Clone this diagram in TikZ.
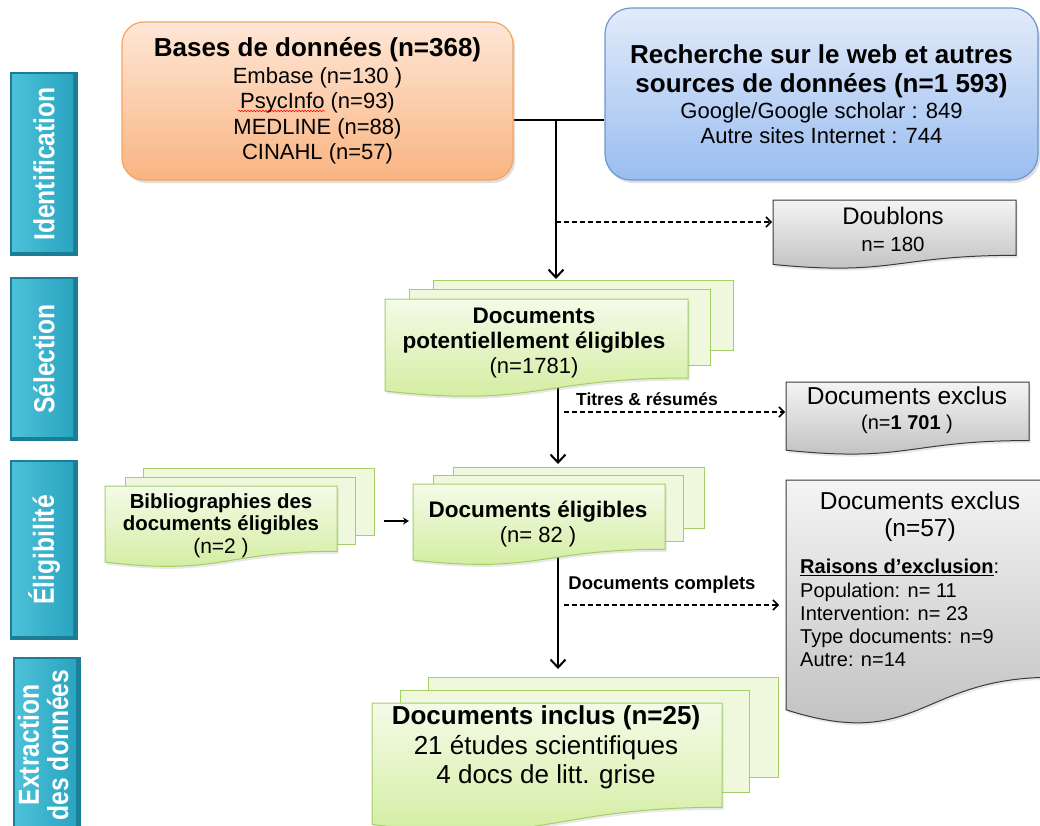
\documentclass[tikz,border=0pt]{standalone}
\usepackage{graphicx}
\usepackage{fontspec}
\setmainfont{Liberation Sans}
\usetikzlibrary{arrows.meta,shadows,decorations.pathmorphing}
\pgfdeclarelayer{bg}
\pgfdeclarelayer{mid}
\pgfsetlayers{bg,mid,main}
\definecolor{orTop}{HTML}{FEE7D6}
\definecolor{orBot}{HTML}{F9B482}
\definecolor{orLine}{HTML}{F5A35E}
\definecolor{blTop}{HTML}{E2EBFA}
\definecolor{blBot}{HTML}{9ABDF0}
\definecolor{blLine}{HTML}{6E96D0}
\definecolor{grTop}{HTML}{F4F4F4}
\definecolor{grBot}{HTML}{BDBDBD}
\definecolor{grLine}{HTML}{3A3A3A}
\definecolor{gnTop}{HTML}{F4FBE8}
\definecolor{gnBot}{HTML}{D0EC9A}
\definecolor{gnLine}{HTML}{A3CF66}
\definecolor{gnBack}{HTML}{EFF8DD}
\definecolor{tlDark}{HTML}{1C7E96}
\definecolor{tlMid}{HTML}{2AA4C0}
\definecolor{tlLight}{HTML}{4DC1D9}

% document shape: style, x1, y1 (top), x2, height
\newcommand\docshape[5]{\path[#1] ({#2},{#3}) -- ({#4},{#3}) -- ({#4},{#3+0.802*#5})
  .. controls ({(#2+#4)/2},{#3+0.802*#5}) and ({(#2+#4)/2},{#3+1.107*#5}) .. ({#2},{#3+0.934*#5}) -- cycle;}
\newcommand\backsheet[4]{\path[backpage] ({#1},{#2}) rectangle ({#3},{#4});}
\newcommand\tealbox[4]{%
  \fill[tlDark] ({#1},{#2}) rectangle ({#3},{#4});
  \fill[left color=tlLight, right color=tlMid] ({#1+2},{#2+2}) rectangle ({#3-5},{#4-5});
}
\newcommand\ttl{\fontsize{26}{26}\selectfont\bfseries}

\begin{document}
\begin{tikzpicture}[x=1pt,y=-1pt,
  backpage/.style={fill=gnBack, draw=gnLine, line width=1pt},
  frontpage/.style={top color=gnTop, bottom color=gnBot, draw=gnLine, line width=1pt,
     drop shadow={opacity=0.18, shadow xshift=1.5pt, shadow yshift=-2.5pt}},
  graypage/.style={top color=grTop, bottom color=grBot, draw=grLine, line width=1pt,
     drop shadow={opacity=0.18, shadow xshift=1.5pt, shadow yshift=-2.5pt}},
  txt/.style={inner sep=0pt, align=center},
  labtxt/.style={rotate=90, text=white, font=\fontsize{29}{27}\selectfont\bfseries, inner sep=0pt},
  plain/.style={line width=2pt},
  arr/.style={line width=2pt, -{Straight Barb[length=8pt,width=15pt]}},
  darr/.style={line width=1.5pt, dash pattern=on 5pt off 3pt, -{Straight Barb[length=5pt,width=10pt]}},
  smallarr/.style={line width=2pt, -{Stealth[length=6pt,width=7pt]}},
  lbl/.style={inner sep=0pt, font=\bfseries}
]
\useasboundingbox (0,0) rectangle (1040,825);

% ---- phase labels
\tealbox{10}{72}{78}{256}
\tealbox{10}{277}{78}{441}
\tealbox{10}{460}{78}{640}
\tealbox{13}{657}{81}{835}
\node[labtxt] (lab1) at (44,164) {\scalebox{0.85}[1]{Identification}};
\node[labtxt] (lab2) at (44,359) {\scalebox{0.85}[1]{Sélection}};
\node[labtxt] (lab3) at (44,550) {\scalebox{0.85}[1]{Éligibilité}};
\node[labtxt] (lab4) at (47,745) {\scalebox{0.85}[1]{\begin{tabular}{@{}c@{}}Extraction\\des données\end{tabular}}};

% ---- top sources
\node[txt, font=\fontsize{22}{25.5}\selectfont, draw=orLine, line width=1.2pt, rounded corners=22pt,
  top color=orTop, bottom color=orBot, minimum width=391pt, minimum height=158pt,
  drop shadow={opacity=0.25, shadow xshift=2pt, shadow yshift=-3pt}] (db) at (317.5,101)
  {{\ttl Bases de données (n=368)}\\[1pt]
   Embase (n=130 )\\ PsycInfo (n=93)\\ MEDLINE (n=88)\\ CINAHL (n=57)};
\draw[red, line width=0.5pt, decorate, decoration={snake, amplitude=0.7pt, segment length=3pt}]
  (238,111) -- (325,111);

\node[txt, font=\fontsize{22}{25}\selectfont, draw=blLine, line width=1.2pt, rounded corners=26pt,
  top color=blTop, bottom color=blBot, minimum width=433pt, minimum height=172pt,
  drop shadow={opacity=0.25, shadow xshift=2pt, shadow yshift=-3pt}] (web) at (821.5,94)
  {{\ttl Recherche sur le web et autres}\\[4pt] {\ttl sources de données (n=1 593)}\\[0.5pt]
   Google/Google scholar : 849\\ Autre sites Internet : 744};

% ---- document shapes
\begin{pgfonlayer}{mid}
  \docshape{graypage}{773}{200}{1016}{69}
  \backsheet{433}{280}{733}{350}
  \backsheet{409}{289}{710}{365}
  \docshape{frontpage}{385}{299}{688}{98.5}
  \docshape{graypage}{786}{382}{1029}{73}
  \backsheet{143}{468}{374}{535}
  \backsheet{125}{477}{355}{544}
  \docshape{frontpage}{105}{486}{337}{81.4}
  \backsheet{453}{467}{704}{528}
  \backsheet{433}{475}{683}{541}
  \docshape{frontpage}{413}{484}{665}{81.4}
  \docshape{graypage}{786}{480}{1052}{246}
  \backsheet{428}{677}{778}{777}
  \backsheet{400}{690}{749}{792}
  \docshape{frontpage}{372}{703}{722}{130}
\end{pgfonlayer}

% ---- texts
\node[txt, font=\fontsize{20.5}{27}\selectfont] (dbl) at (893,229) {{\fontsize{24}{27}\selectfont Doublons}\\ n= 180};
\node[txt, font=\fontsize{22.5}{25}\selectfont] (pot) at (534,343)
  {\textbf{Documents}\\ \textbf{potentiellement éligibles}\\ {\fontsize{22}{25}\selectfont (n=1781)}};
\node[txt, font=\fontsize{20}{25}\selectfont] (ex1) at (907,410)
  {{\fontsize{24.5}{25}\selectfont Documents exclus}\\ (n=\textbf{1 701} )};
\node[txt, font=\fontsize{20.4}{22.5}\selectfont] (bib) at (221,525.5)
  {\textbf{Bibliographies des}\\ \textbf{documents éligibles}\\ {\fontsize{21}{22.5}\selectfont (n=2 )}};
\node[txt, font=\fontsize{22}{25}\selectfont] (elig) at (538,524.5)
  {{\fontsize{22.5}{25}\selectfont\bfseries Documents éligibles}\\ (n= 82 )};
\node[txt, font=\fontsize{24.5}{27}\selectfont] (ex2) at (920,516.5) {Documents exclus\\ (n=57)};
\node[inner sep=0pt, align=left, anchor=north west, font=\fontsize{20}{23.3}\selectfont] (ex2r) at (800,559)
  {\textbf{\underline{Raisons d’exclusion}}:\\ Population: n= 11\\ Intervention: n= 23\\ Type documents: n=9\\ Autre: n=14};
\node[txt, font=\fontsize{26}{29.5}\selectfont] (incl) at (546,747.5)
  {\textbf{Documents inclus (n=25)}\\ 21 études scientifiques\\ 4 docs de litt. grise};
\node[lbl, font=\fontsize{17.5}{20}\selectfont\bfseries] (lt) at (647,399) {Titres \& résumés};
\node[lbl, font=\fontsize{18.5}{20}\selectfont\bfseries] (lc) at (662,585) {Documents complets};

% ---- connector end points
\coordinate (j) at (556,120);
\coordinate (potT) at (556,279);
\coordinate (jd) at (556,222);
\coordinate (dblL) at (772,222);
\coordinate (potB) at (558,375);
\coordinate (eligT) at (558,464);
\coordinate (t1) at (564,412);
\coordinate (ex1L) at (785,412);
\coordinate (bibR) at (384,521);
\coordinate (eligL) at (409,521);
\coordinate (eligB) at (558,545);
\coordinate (inclT) at (558,669);
\coordinate (t2) at (564,605);
\coordinate (ex2L) at (779,605);

\begin{pgfonlayer}{bg}
  \draw[plain] (j -| db.east) -- (j -| web.west);
  \draw[arr] (j) -- (potT);
  \draw[darr] (jd) -- (dblL);
  \draw[arr] (potB) -- (eligT);
  \draw[darr] (t1) -- (ex1L);
  \draw[smallarr] (bibR) -- (eligL);
  \draw[arr] (eligB) -- (inclT);
  \draw[darr] (t2) -- (ex2L);
\end{pgfonlayer}
\end{tikzpicture}
\end{document}
